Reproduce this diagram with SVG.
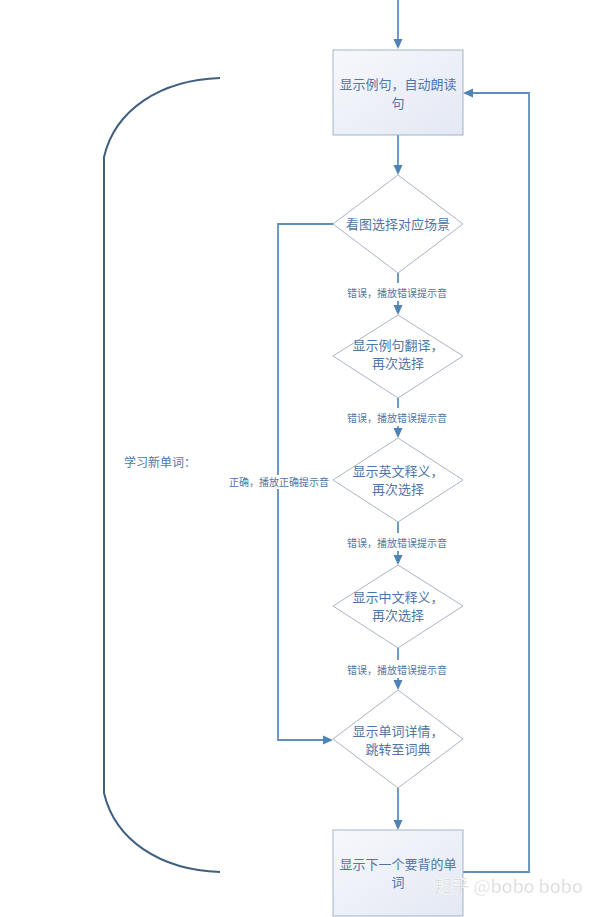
<svg xmlns="http://www.w3.org/2000/svg" width="596" height="917" viewBox="0 0 596 917">
<style>
.t{font-family:"Noto Sans CJK SC","Noto Sans",sans-serif;fill:#4f76a6;font-size:13px;text-anchor:middle}
.l{font-family:"Noto Sans CJK SC","Noto Sans",sans-serif;fill:#4f76a6;font-size:10px;text-anchor:middle}
.box{fill:url(#g);stroke:#a3b3c8;stroke-width:1}
.dia{fill:#ffffff;stroke:#aab5c5;stroke-width:1}
.c{fill:none;stroke:#5f8fba;stroke-width:1.8}
.h{fill:#4f83b3}
.bg{fill:#ffffff}
</style>
<defs>
<linearGradient id="g" x1="0" y1="0" x2="1" y2="1">
<stop offset="0" stop-color="#f7f8fc"/>
<stop offset="1" stop-color="#e3e8f3"/>
</linearGradient>
</defs>
<rect width="596" height="917" fill="#ffffff"/>
<g id="connectors">
<path class="c" d="M398,0 V40"/>
<path class="h" d="M393.5,39 L402.5,39 L398,49 z"/>
<path class="c" d="M398,135 V166"/>
<path class="h" d="M393.5,165 L402.5,165 L398,175 z"/>
<path class="c" d="M398,273 V283"/>
<path class="c" d="M398,301 V306"/>
<path class="h" d="M393.5,305 L402.5,305 L398,315 z"/>
<path class="c" d="M398,398 V408"/>
<path class="c" d="M398,426 V429"/>
<path class="h" d="M393.5,428 L402.5,428 L398,438 z"/>
<path class="c" d="M398,522 V533"/>
<path class="c" d="M398,551 V556"/>
<path class="h" d="M393.5,555 L402.5,555 L398,565 z"/>
<path class="c" d="M398,648 V660"/>
<path class="c" d="M398,678 V681"/>
<path class="h" d="M393.5,680 L402.5,680 L398,690 z"/>
<path class="c" d="M398,788 V821"/>
<path class="h" d="M393.5,820 L402.5,820 L398,830 z"/>
<path class="c" d="M463,872 H529 V93 H472"/>
<path class="h" d="M473,88.5 L473,97.5 L463,93 z"/>
<path class="c" d="M333,224 H278 V740 H324"/>
<path class="h" d="M323,735.5 L323,744.5 L333,740 z"/>
</g>
<path d="M220,78 C160,80 115,110 104,157 V793 C115,840 160,870 220,872" fill="none" stroke="#3f5f80" stroke-width="2"/>
<text x="160" y="467" class="t" style="font-size:12px">学习新单词：</text>
<g id="n1">
<rect class="box" x="333" y="50" width="130" height="85"/>
<text x="398" y="89" class="t">显示例句，自动朗读</text>
<text x="398" y="108" class="t">句</text>
</g>
<g id="n2">
<polygon class="dia" points="398,175 463,224 398,273 333,224"/>
<text x="398" y="229" class="t">看图选择对应场景</text>
</g>
<text x="397" y="297" class="l">错误，播放错误提示音</text>
<g id="n3">
<polygon class="dia" points="398,315 463,356 398,398 333,356"/>
<text x="398" y="350" class="t">显示例句翻译，</text>
<text x="398" y="368" class="t">再次选择</text>
</g>
<text x="397" y="422" class="l">错误，播放错误提示音</text>
<g id="n4">
<polygon class="dia" points="398,438 463,480 398,522 333,480"/>
<text x="398" y="476" class="t">显示英文释义，</text>
<text x="398" y="494" class="t">再次选择</text>
</g>
<rect class="bg" x="226" y="475" width="104" height="14"/>
<text x="279" y="486" class="l">正确，播放正确提示音</text>
<text x="397" y="547" class="l">错误，播放错误提示音</text>
<g id="n5">
<polygon class="dia" points="398,565 463,606 398,648 333,606"/>
<text x="398" y="602" class="t">显示中文释义，</text>
<text x="398" y="620" class="t">再次选择</text>
</g>
<text x="397" y="674" class="l">错误，播放错误提示音</text>
<g id="n6">
<polygon class="dia" points="398,690 463,739 398,788 333,739"/>
<text x="398" y="736" class="t">显示单词详情，</text>
<text x="398" y="754" class="t">跳转至词典</text>
</g>
<g id="n7">
<rect class="box" x="333" y="830" width="130" height="86"/>
<text x="398" y="869" class="t">显示下一个要背的单</text>
<text x="398" y="887" class="t">词</text>
</g>
<text x="508" y="893" style="font-family:'Noto Sans CJK SC','Noto Sans',sans-serif;font-size:18px;fill:#cfcfcf;text-anchor:middle;stroke:#ffffff;stroke-width:0.5">知乎 @bobo bobo</text>
</svg>
